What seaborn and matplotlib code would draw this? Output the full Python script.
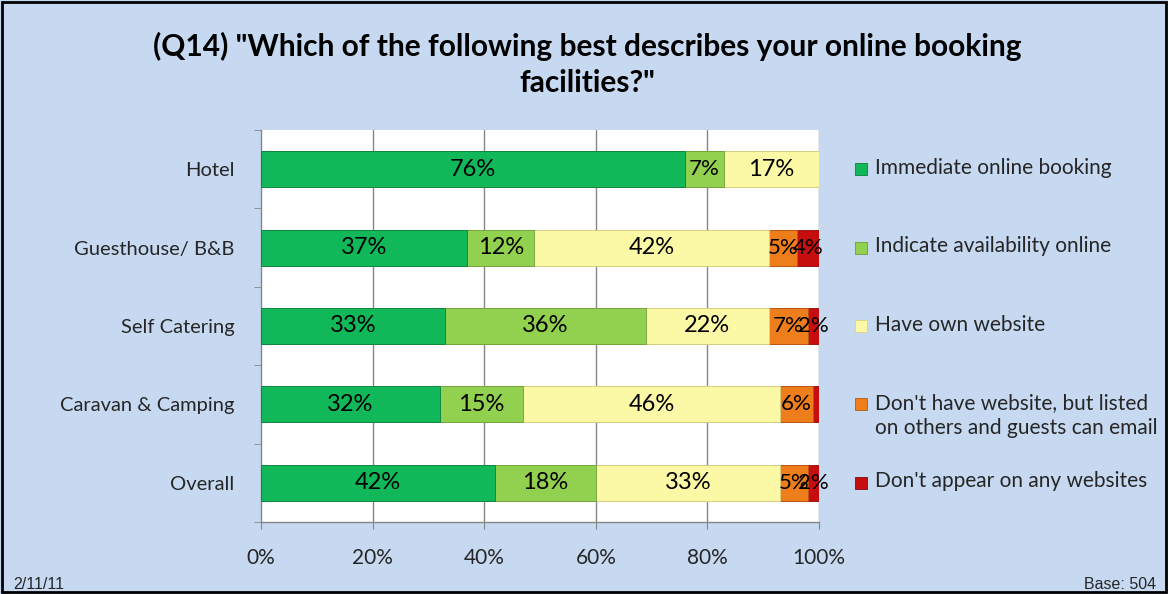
import numpy as np
import pandas as pd
import matplotlib
matplotlib.use("Agg")
import matplotlib.pyplot as plt
import matplotlib.transforms as mtransforms
import seaborn as sns
from matplotlib.patches import Rectangle

# Datos del gráfico (porcentajes)
categories = ['Hotel', 'Guesthouse/ B&B', 'Self Catering', 'Caravan & Camping', 'Overall']
series = ['Immediate online booking',
          'Indicate availability online',
          'Have own website',
          "Don't have website, but listed\non others and guests can email",
          "Don't appear on any websites"]
immediate = [76, 37, 33, 32, 42]
availability = [7, 12, 36, 15, 18]
own_site = [17, 42, 22, 46, 33]
listed = [0, 5, 7, 6, 5]
no_site = [0, 4, 2, 1, 2]
x_ticks = [0, 20, 40, 60, 80, 100]
x_labels = ['0%', '20%', '40%', '60%', '80%', '100%']

colors = ['#10B85A', '#92D050', '#FBF8A6', '#EE7D1C', '#C70E0E']
edges = ['#0B7F40', '#6E9E3A', '#D8D48A', '#B95A10', '#8A0808']

values = np.array([immediate, availability, own_site, listed, no_site])
cum = values.cumsum(axis=0)

sns.set_style('white')
plt.rcParams['font.family'] = ['Lato', 'DejaVu Sans']

fig = plt.figure(figsize=(11.68, 5.94), dpi=100, facecolor='#C6D9F1')
ax = fig.add_axes([0.2235, 0.1212, 0.4777, 0.66])
ax.set_facecolor('white')

# Barras apiladas: se dibuja el acumulado de mayor a menor
for k in range(len(series) - 1, -1, -1):
    df = pd.DataFrame({'cat': categories, 'val': cum[k]})
    sns.barplot(data=df, x='val', y='cat', orient='h', color=colors[k],
                saturation=1, width=0.46, errorbar=None, ax=ax,
                edgecolor=edges[k], linewidth=0.6, zorder=3)

# Etiquetas de datos (en el original las de segmentos pequeños se tocan)
for k in range(len(series)):
    for i, cat in enumerate(categories):
        v = values[k, i]
        if v >= 2:
            ax.text(cum[k, i] - v / 2, i, f'{v}%', ha='center', va='center',
                    fontsize=17 if v >= 8 else 16, color='black', zorder=5)

ax.set_xlim(0, 100)
ax.set_ylim(4.5, -0.5)
ax.set_xticks(x_ticks)
ax.set_xticklabels(x_labels, fontsize=15)
ax.set_yticks(range(len(categories)))
ax.set_yticklabels(categories, fontsize=14.5)
ax.set_yticks(np.arange(-0.5, 5, 1), minor=True)
ax.tick_params(axis='y', which='major', length=0, pad=19)
ax.tick_params(axis='y', which='minor', length=5, color='#868686', direction='out', left=True)
ax.tick_params(axis='x', which='major', length=5, color='#868686', direction='out', bottom=True, pad=14)
ax.set_xlabel('')
ax.set_ylabel('')
for x in x_ticks[1:]:
    ax.axvline(x, color='#868686', lw=1, zorder=1)
for s in ['top', 'right']:
    ax.spines[s].set_visible(False)
for s in ['left', 'bottom']:
    ax.spines[s].set_color('#868686')
    ax.spines[s].set_linewidth(1)

# Leyenda: cada entrada alineada con una fila de barras (como en Excel)
trans = mtransforms.blended_transform_factory(ax.transAxes, ax.transData)
for i, (lab, c, e) in enumerate(zip(series, colors, edges)):
    ax.plot([1.0755], [i], marker='s', markersize=8.5, color=c,
            markeredgecolor=e, markeredgewidth=0.6, transform=trans, clip_on=False)
    ax.text(1.1, i - 0.145, lab, transform=trans, ha='left', va='top',
            fontsize=15, linespacing=1.3)

# Título y notas
fig.text(0.503, 0.892, '(Q14) "Which of the following best describes your online booking\nfacilities?"',
         ha='center', va='center', fontsize=21.5, fontweight='bold', linespacing=1.35,
         color='black')
fig.text(0.011, 0.003, '2/11/11', fontsize=11.5, family='Liberation Sans', va='bottom')
fig.text(0.99, 0.003, 'Base: 504', fontsize=11.5, family='Liberation Sans', va='bottom', ha='right')

fig.patches.append(Rectangle((0.002, 0.003), 0.996, 0.994, transform=fig.transFigure,
                             fill=False, edgecolor='black', lw=2))

fig.savefig('out.png', dpi=100, facecolor=fig.get_facecolor())
